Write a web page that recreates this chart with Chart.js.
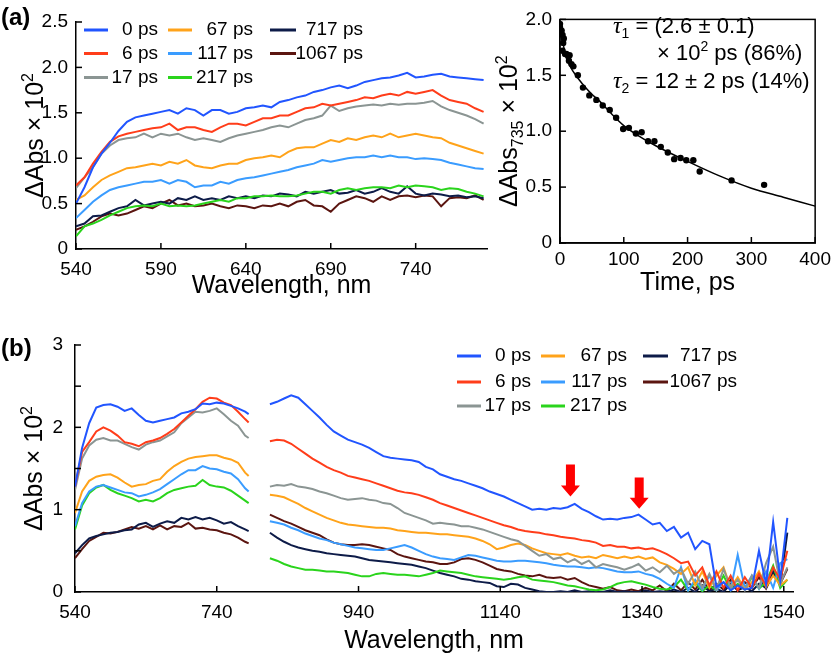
<!DOCTYPE html>
<html>
<head>
<meta charset="utf-8">
<script src="https://cdn.jsdelivr.net/npm/chart.js@4.4.1/dist/chart.umd.min.js"></script>
<style>
  body { margin: 0; background: #fff; }
  #wrap { position: relative; width: 836px; height: 653px; overflow: hidden; background: #fff; }
  canvas { position: absolute; }
  .panel { position: absolute; font: bold 24px "Liberation Sans", Arial, sans-serif; color: #000; }
</style>
</head>
<body>
<div id="wrap">
  <canvas id="specA" width="490" height="310" style="left:0;top:0"></canvas>
  <canvas id="kinA" width="346" height="310" style="left:490px;top:0"></canvas>
  <canvas id="specB" width="836" height="333" style="left:0;top:320px"></canvas>
  <div class="panel" style="left:1px;top:3px">(a)</div>
  <div class="panel" style="left:1px;top:334px">(b)</div>
</div>
<script>
const FONT = '"Liberation Sans", Arial, Helvetica, sans-serif';

const legendLabels = ['0 ps', '6 ps', '17 ps', '67 ps', '117 ps', '217 ps', '717 ps', '1067 ps'];
const seriesColors = ['#2155ff', '#ff3d1a', '#8b9593', '#ffa31a', '#3a9cff', '#2ad41c', '#0d1b48', '#5b1510'];

//panel a, left: spectra 540-780 nm
const wlA = [540,545,550,555,560,565,570,575,580,585,590,595,600,605,610,615,620,625,630,635,
  640,645,650,655,660,665,670,675,680,685,690,695,700,705,710,715,720,725,730,735,
  740,745,750,755,760,765,770,775,780];
const a0 = [0.50,0.68,0.90,1.05,1.17,1.30,1.40,1.45,1.47,1.49,1.51,1.53,1.49,1.55,1.53,1.47,1.53,1.53,1.49,1.51,
  1.55,1.56,1.58,1.56,1.62,1.64,1.67,1.69,1.73,1.75,1.78,1.80,1.77,1.80,1.84,1.86,1.88,1.89,1.91,1.94,
  1.89,1.90,1.92,1.93,1.90,1.89,1.88,1.87,1.86];
const a6 = [0.70,0.79,0.94,1.07,1.18,1.24,1.27,1.29,1.31,1.33,1.34,1.38,1.31,1.34,1.34,1.31,1.29,1.34,1.38,1.38,
  1.36,1.40,1.44,1.44,1.47,1.47,1.51,1.55,1.56,1.60,1.58,1.60,1.62,1.64,1.67,1.66,1.69,1.71,1.69,1.73,
  1.71,1.73,1.75,1.69,1.64,1.62,1.60,1.55,1.51];
const a17 = [0.67,0.79,0.90,1.05,1.14,1.20,1.22,1.23,1.27,1.23,1.27,1.25,1.27,1.23,1.20,1.22,1.20,1.18,1.22,1.25,
  1.27,1.29,1.31,1.34,1.36,1.34,1.38,1.42,1.44,1.47,1.58,1.52,1.55,1.57,1.58,1.59,1.58,1.60,1.59,1.60,
  1.60,1.61,1.63,1.57,1.53,1.50,1.47,1.43,1.38];
const a67 = [0.54,0.59,0.68,0.76,0.81,0.85,0.89,0.90,0.92,0.94,0.92,0.96,0.94,0.98,0.92,0.90,0.89,0.92,0.94,0.94,
  0.98,1.00,1.01,1.03,1.01,1.07,1.11,1.12,1.12,1.16,1.20,1.18,1.22,1.20,1.23,1.25,1.23,1.27,1.23,1.25,
  1.27,1.25,1.23,1.22,1.17,1.14,1.11,1.08,1.05];
const a117 = [0.34,0.43,0.52,0.59,0.65,0.68,0.70,0.72,0.74,0.74,0.76,0.72,0.76,0.74,0.68,0.70,0.70,0.74,0.72,0.76,
  0.78,0.79,0.81,0.83,0.85,0.87,0.90,0.92,0.94,0.98,0.96,0.98,1.00,1.01,1.01,1.03,1.01,1.03,1.01,1.01,
  0.99,1.00,0.99,0.98,0.95,0.93,0.91,0.89,0.88];
const a217 = [0.14,0.25,0.28,0.32,0.37,0.41,0.45,0.47,0.48,0.47,0.50,0.47,0.48,0.47,0.48,0.50,0.52,0.54,0.52,0.56,
  0.56,0.58,0.58,0.59,0.58,0.58,0.59,0.61,0.63,0.63,0.61,0.65,0.67,0.65,0.67,0.68,0.68,0.67,0.70,0.68,
  0.70,0.69,0.68,0.65,0.67,0.66,0.63,0.61,0.58];
const a717 = [0.25,0.28,0.36,0.37,0.41,0.45,0.47,0.54,0.48,0.50,0.52,0.50,0.56,0.54,0.58,0.54,0.56,0.54,0.58,0.56,
  0.58,0.56,0.59,0.58,0.61,0.60,0.58,0.63,0.61,0.63,0.65,0.61,0.62,0.65,0.61,0.63,0.67,0.63,0.61,0.69,
  0.61,0.59,0.61,0.60,0.58,0.59,0.57,0.58,0.56];
const a1067 = [0.21,0.25,0.30,0.36,0.39,0.37,0.39,0.43,0.47,0.45,0.50,0.54,0.48,0.50,0.47,0.48,0.50,0.47,0.45,0.48,
  0.47,0.45,0.48,0.47,0.50,0.47,0.52,0.54,0.48,0.47,0.41,0.50,0.54,0.58,0.56,0.52,0.58,0.54,0.58,0.59,
  0.57,0.59,0.58,0.47,0.56,0.57,0.56,0.59,0.54];
const aTicksX = [540, 590, 640, 690, 740];
const aTicksY = [0, 0.5, 1.0, 1.5, 2.0, 2.5];

//panel a, right: decay at 735 nm and fit
const kinT = [0,0,2.6,4,6,5,4,8,10,13,15,14,18,21,28,36,46,57,67,78,
  88,99,108,119,128,138,148,158,169,179,189,198,209,219,269,320];
const kinV = [1.96,1.93,1.90,1.86,1.83,1.79,1.72,1.69,1.69,1.67,1.68,1.63,1.60,1.58,1.50,1.39,1.32,1.28,1.23,1.19,
  1.12,1.02,1.03,0.98,0.99,0.91,0.91,0.86,0.81,0.75,0.76,0.74,0.74,0.64,0.56,0.52];
const fitT = [0,2,4,6,8,10,15,20,30,40,50,60,80,100,120,150,200,250,300,350,400];
const fitV = [1.96,1.88,1.81,1.75,1.70,1.66,1.59,1.54,1.46,1.39,1.33,1.28,1.16,1.05,0.97,0.87,0.73,0.60,0.49,0.41,0.33];
const kTicksX = [0, 100, 200, 300, 400];
const kTicksY = [0, 0.5, 1.0, 1.5, 2.0];

//panel b: visible part
const wlBvis = [540,550,560,570,580,590,600,610,620,630,640,650,660,670,680,690,700,710,720,730,740,750,760,770,780,785];
const b0v = [1.28,1.75,2.05,2.24,2.27,2.28,2.25,2.20,2.23,2.15,2.08,2.06,2.08,2.10,2.12,2.17,2.19,2.22,2.29,2.28,2.30,2.29,2.26,2.23,2.19,2.16];
const b6v = [1.28,1.70,1.82,1.95,2.00,1.96,1.90,1.82,1.80,1.77,1.82,1.84,1.87,1.92,1.98,2.06,2.14,2.22,2.31,2.36,2.35,2.30,2.27,2.19,2.10,2.06];
const b17v = [1.24,1.62,1.78,1.85,1.87,1.84,1.84,1.80,1.76,1.73,1.79,1.82,1.84,1.89,1.94,2.05,2.12,2.19,2.18,2.20,2.23,2.16,2.08,2.02,1.90,1.87];
const b67v = [0.96,1.22,1.35,1.40,1.42,1.43,1.39,1.33,1.28,1.30,1.31,1.35,1.37,1.46,1.53,1.58,1.62,1.64,1.65,1.66,1.66,1.63,1.61,1.57,1.45,1.41];
const b117v = [0.80,1.08,1.22,1.28,1.30,1.27,1.24,1.21,1.20,1.16,1.18,1.21,1.25,1.31,1.37,1.43,1.48,1.48,1.53,1.50,1.49,1.46,1.44,1.37,1.26,1.22];
const b217v = [0.76,1.05,1.20,1.27,1.30,1.24,1.20,1.17,1.14,1.10,1.12,1.10,1.14,1.20,1.24,1.26,1.28,1.29,1.36,1.30,1.28,1.27,1.23,1.17,1.11,1.08];
const b717v = [0.47,0.57,0.65,0.68,0.70,0.72,0.73,0.75,0.76,0.82,0.84,0.79,0.83,0.86,0.84,0.90,0.88,0.91,0.88,0.90,0.87,0.83,0.85,0.80,0.76,0.74];
const b1067v = [0.41,0.52,0.62,0.67,0.72,0.71,0.73,0.76,0.79,0.77,0.80,0.76,0.81,0.76,0.80,0.79,0.84,0.77,0.78,0.76,0.75,0.72,0.70,0.66,0.61,0.59];

//panel b: near-IR part
const wlBnir = [815,825,835,845,855,865,875,885,895,905,915,925,935,945,955,965,975,985,995,1005,
  1015,1025,1035,1045,1055,1065,1075,1085,1095,1105,1115,1125,1135,1145,1155,1165,1175,1185,1195,1205,
  1215,1225,1235,1245,1255,1265,1275,1285,1295,1305,1315,1325,1335,1345,1355,1365,1375,1385,1395,1405,
  1415,1425,1435,1445,1455,1465,1475,1485,1495,1505,1515,1525,1535,1545];
const b0n = [2.28,2.31,2.35,2.39,2.36,2.28,2.20,2.12,2.03,1.95,1.90,1.85,1.82,1.79,1.75,1.70,1.65,1.63,1.62,1.61,
  1.60,1.58,1.52,1.49,1.43,1.40,1.37,1.35,1.32,1.29,1.26,1.22,1.19,1.16,1.12,1.08,1.04,1.00,1.01,1.00,
  1.02,1.01,1.03,1.07,1.01,0.97,0.92,0.88,0.89,0.88,0.90,0.91,0.94,0.88,0.82,0.84,0.74,0.79,0.66,0.72,
  0.52,0.62,0.58,0.06,0.12,0.02,0.08,0.03,0.05,0.50,0.10,0.85,0.15,0.90];
const b6n = [1.83,1.85,1.84,1.80,1.74,1.68,1.62,1.57,1.52,1.48,1.45,1.41,1.39,1.37,1.35,1.32,1.29,1.26,1.23,1.21,
  1.20,1.18,1.15,1.12,1.08,1.05,1.02,0.99,0.96,0.93,0.90,0.87,0.84,0.81,0.79,0.76,0.74,0.73,0.72,0.70,
  0.69,0.67,0.66,0.65,0.63,0.62,0.60,0.56,0.57,0.55,0.55,0.53,0.54,0.52,0.53,0.50,0.46,0.41,0.35,0.37,
  0.20,0.30,0.08,0.25,0.05,0.20,0.02,0.18,0.05,0.22,0.08,0.30,0.15,0.50];
const b17n = [1.28,1.30,1.29,1.31,1.28,1.27,1.25,1.22,1.20,1.17,1.14,1.12,1.13,1.14,1.12,1.11,1.08,1.07,1.02,0.96,
  0.93,0.90,0.87,0.83,0.84,0.83,0.82,0.80,0.80,0.78,0.76,0.73,0.70,0.67,0.64,0.62,0.56,0.50,0.44,0.46,
  0.40,0.42,0.36,0.40,0.34,0.38,0.30,0.34,0.32,0.30,0.27,0.30,0.34,0.26,0.30,0.24,0.32,0.22,0.28,0.10,
  0.25,0.05,0.22,0.03,0.28,0.05,0.15,0.02,0.20,0.05,0.35,0.55,0.10,0.30];
const b67n = [1.18,1.17,1.15,1.11,1.07,1.02,0.98,0.94,0.90,0.87,0.84,0.82,0.81,0.80,0.79,0.78,0.78,0.77,0.75,0.74,
  0.73,0.72,0.72,0.71,0.70,0.70,0.69,0.68,0.67,0.65,0.62,0.58,0.52,0.54,0.57,0.59,0.57,0.53,0.50,0.47,
  0.46,0.45,0.47,0.44,0.42,0.43,0.41,0.45,0.43,0.41,0.43,0.41,0.43,0.40,0.42,0.36,0.33,0.28,0.22,0.30,
  0.08,0.25,0.05,0.20,0.30,0.05,0.18,0.03,0.12,0.25,0.06,0.20,0.08,0.15];
const b117n = [0.86,0.84,0.82,0.78,0.75,0.71,0.68,0.65,0.63,0.60,0.58,0.56,0.54,0.53,0.52,0.51,0.51,0.53,0.55,0.57,
  0.54,0.50,0.46,0.43,0.41,0.40,0.39,0.42,0.45,0.44,0.42,0.40,0.38,0.37,0.37,0.38,0.38,0.37,0.36,0.35,
  0.33,0.32,0.31,0.31,0.30,0.29,0.30,0.29,0.27,0.25,0.24,0.24,0.25,0.22,0.20,0.16,0.10,0.05,0.30,0.02,
  0.15,0.03,0.20,0.02,0.12,0.03,0.45,0.05,0.20,0.04,0.25,0.05,0.35,0.40];
const b217n = [0.41,0.38,0.34,0.31,0.29,0.27,0.27,0.26,0.25,0.25,0.24,0.23,0.21,0.19,0.19,0.22,0.23,0.22,0.21,0.21,
  0.20,0.19,0.21,0.23,0.26,0.25,0.24,0.23,0.21,0.19,0.18,0.17,0.16,0.15,0.16,0.18,0.19,0.15,0.14,0.13,
  0.12,0.10,0.08,0.07,0.05,0.03,0.02,0.03,0.06,0.10,0.12,0.13,0.11,0.09,0.06,0.04,0.03,0.06,0.15,0.02,
  0.12,0.01,0.08,0.02,0.20,0.02,0.10,0.03,0.18,0.04,0.12,0.32,0.05,0.15];
const b717n = [0.72,0.66,0.61,0.57,0.54,0.52,0.50,0.49,0.47,0.46,0.45,0.44,0.43,0.41,0.39,0.38,0.37,0.36,0.35,0.34,
  0.33,0.31,0.29,0.26,0.23,0.21,0.19,0.16,0.15,0.13,0.12,0.11,0.07,0.06,0.10,0.09,0.05,0.03,0.01,0.00,
  0.00,0.01,0.00,0.02,0.00,0.01,0.00,0.00,0.02,0.00,0.01,0.00,0.00,0.02,0.00,0.01,0.00,0.03,0.00,0.05,
  0.00,0.08,0.01,0.04,0.00,0.10,0.02,0.06,0.01,0.10,0.05,0.25,0.08,0.72];
const b1067n = [0.94,0.90,0.86,0.83,0.79,0.75,0.72,0.69,0.64,0.60,0.58,0.57,0.57,0.58,0.57,0.55,0.53,0.51,0.46,0.43,
  0.41,0.39,0.37,0.36,0.34,0.34,0.36,0.40,0.41,0.39,0.36,0.32,0.28,0.26,0.25,0.22,0.20,0.19,0.21,0.18,
  0.17,0.18,0.15,0.17,0.12,0.08,0.06,0.04,0.06,0.02,0.01,0.03,0.01,0.05,0.02,0.08,0.01,0.10,0.02,0.12,
  0.03,0.15,0.02,0.10,0.03,0.15,0.02,0.12,0.05,0.18,0.04,0.22,0.10,0.28];
const bTicksX = [540, 740, 940, 1140, 1340, 1540];
const bTicksY = [0, 0.5, 1, 1.5, 2, 2.5, 3];

//red arrows in panel b (wavelength, top and tip in dAbs units)
const arrowX = [1239, 1336];
const arrowTop = [1.55, 1.39];
const arrowTip = [1.16, 1.01];

function lineSet(xs, ys, color) {
  return {
    data: xs.map((x, i) => ({ x: x, y: ys[i] })),
    borderColor: color,
    borderWidth: 2,
    pointRadius: 0,
    tension: 0,
    fill: false
  };
}

function fontOf(p) {
  return (p.italic ? 'italic ' : '') + (p.size || 25) + 'px ' + (p.serif ? '"Liberation Serif", "DejaVu Serif", serif' : FONT);
}

// draws a row of text pieces (for sub/superscripts), optionally rotated
function drawParts(ctx, parts, x, y, align, rot) {
  ctx.save();
  ctx.translate(x, y);
  if (rot) ctx.rotate(rot);
  ctx.textBaseline = 'alphabetic';
  ctx.textAlign = 'left';
  ctx.fillStyle = '#000';
  let w = 0;
  parts.forEach(p => { ctx.font = fontOf(p); w += ctx.measureText(p.t).width; });
  let cx = align === 'center' ? -w / 2 : 0;
  parts.forEach(p => {
    ctx.font = fontOf(p);
    ctx.fillText(p.t, cx, p.dy || 0);
    cx += ctx.measureText(p.t).width;
  });
  ctx.restore();
}

const decor = {
  id: 'decor',
  afterDraw(chart, args, o) {
    const ctx = chart.ctx;
    const a = chart.chartArea;
    const xs = chart.scales.x, ys = chart.scales.y;
    ctx.save();
    ctx.strokeStyle = '#000';
    ctx.lineWidth = 1.5;
    // inward tick marks
    xs.ticks.forEach(t => {
      const p = xs.getPixelForValue(t.value);
      ctx.beginPath(); ctx.moveTo(p, a.bottom); ctx.lineTo(p, a.bottom - 6); ctx.stroke();
    });
    ys.ticks.forEach(t => {
      const p = ys.getPixelForValue(t.value);
      ctx.beginPath(); ctx.moveTo(a.left, p); ctx.lineTo(a.left + 6, p); ctx.stroke();
    });
    if (o.box) ctx.strokeRect(a.left, a.top, a.right - a.left, a.bottom - a.top);

    // axis titles
    if (o.xTitle) drawParts(ctx, o.xTitle.parts, (a.left + a.right) / 2, o.xTitle.y, 'center', 0);
    if (o.yTitle) drawParts(ctx, o.yTitle.parts, o.yTitle.x, (a.top + a.bottom) / 2, 'center', -Math.PI / 2);
    (o.texts || []).forEach(t => drawParts(ctx, t.parts, t.x, t.y, 'left', 0));

    // legend in three columns
    if (o.legend) {
      legendLabels.forEach((label, i) => {
        const col = o.legend.cols[Math.floor(i / 3)];
        const y = o.legend.rows[i % 3];
        ctx.strokeStyle = seriesColors[i];
        ctx.lineWidth = 3;
        ctx.beginPath(); ctx.moveTo(col[0], y); ctx.lineTo(col[1], y); ctx.stroke();
        ctx.fillStyle = '#000';
        ctx.font = '19px ' + FONT;
        ctx.textAlign = 'right';
        ctx.textBaseline = 'middle';
        ctx.fillText(label, col[2], y);
      });
    }

    // red arrows
    if (o.arrows) {
      ctx.fillStyle = '#ff0000';
      arrowX.forEach((v, i) => {
        const x = xs.getPixelForValue(v);
        const top = ys.getPixelForValue(arrowTop[i]);
        const tip = ys.getPixelForValue(arrowTip[i]);
        const head = 11;
        ctx.beginPath();
        ctx.moveTo(x - 4.5, top); ctx.lineTo(x + 4.5, top);
        ctx.lineTo(x + 4.5, tip - head); ctx.lineTo(x + 9.5, tip - head);
        ctx.lineTo(x, tip); ctx.lineTo(x - 9.5, tip - head);
        ctx.lineTo(x - 4.5, tip - head); ctx.closePath();
        ctx.fill();
      });
    }
    ctx.restore();
  }
};

function axis(min, max, tickVals, fitKey, fitVal, pad, fmt) {
  return {
    type: 'linear',
    min: min,
    max: max,
    afterBuildTicks: s => { s.ticks = tickVals.map(v => ({ value: v })); },
    afterFit: s => { s[fitKey] = fitVal; },
    grid: { display: false, drawTicks: false },
    border: { display: true, color: '#000', width: 1.5 },
    ticks: { color: '#000', font: { size: 19 }, padding: pad, maxRotation: 0, autoSkip: false, callback: fmt }
  };
}

const oneDec = v => (v === 0 ? '0' : v.toFixed(1));
const plain = v => String(v);
const baseOpts = {
  responsive: false,
  animation: false,
  events: [],
  plugins: { legend: { display: false }, tooltip: { enabled: false } }
};

Chart.defaults.font.family = FONT;
Chart.defaults.color = '#000';

// panel a left
const aSeries = [a0, a6, a17, a67, a117, a217, a717, a1067];
new Chart(document.getElementById('specA').getContext('2d'), {
  type: 'line',
  data: { datasets: aSeries.map((s, i) => lineSet(wlA, s, seriesColors[i])) },
  options: Object.assign({}, baseOpts, {
    layout: { padding: { top: 22, right: 3, left: 0, bottom: 0 } },
    scales: {
      x: axis(540, 782, aTicksX, 'height', 61, 9, plain),
      y: axis(0, 2.5, aTicksY, 'width', 76, 8, oneDec)
    },
    plugins: Object.assign({}, baseOpts.plugins, {
      decor: {
        xTitle: { y: 293, parts: [{ t: 'Wavelength, nm' }] },
        yTitle: { x: 43, parts: [{ t: '\u0394Abs \u00d7 10' }, { t: '2', size: 16, dy: -10 }] },
        legend: { rows: [30, 53.5, 77.5], cols: [[84, 108, 158], [168, 192, 253], [270, 296, 363]] }
      }
    })
  }),
  plugins: [decor]
});

// panel a right
new Chart(document.getElementById('kinA').getContext('2d'), {
  type: 'line',
  data: {
    datasets: [
      {
        data: kinT.map((t, i) => ({ x: t, y: kinV[i] })),
        showLine: false,
        pointRadius: 3.2,
        pointBackgroundColor: '#000',
        pointBorderWidth: 0
      },
      {
        data: fitT.map((t, i) => ({ x: t, y: fitV[i] })),
        borderColor: '#000',
        borderWidth: 1.5,
        pointRadius: 0,
        cubicInterpolationMode: 'monotone'
      }
    ]
  },
  options: Object.assign({}, baseOpts, {
    layout: { padding: { top: 7, right: 17, left: 0, bottom: 0 } },
    scales: {
      x: axis(0, 400, kTicksX, 'height', 67, 5, plain),
      y: axis(0, 2.0, kTicksY, 'width', 70, 8, oneDec)
    },
    plugins: Object.assign({}, baseOpts.plugins, {
      decor: {
        box: true,
        xTitle: { y: 290, parts: [{ t: 'Time, ps' }] },
        yTitle: { x: 27, parts: [{ t: '\u0394Abs' }, { t: '735', size: 16, dy: 6 }, { t: ' \u00d7 10' }, { t: '2', size: 16, dy: -10 }] },
        texts: [
          { x: 123, y: 33, parts: [{ t: '\u03c4', italic: true, serif: true, size: 24 }, { t: '1', size: 14, dy: 5 }, { t: ' = (2.6 \u00b1 0.1)', size: 22 }] },
          { x: 167, y: 60, parts: [{ t: '\u00d7 10', size: 22 }, { t: '2', size: 14, dy: -9 }, { t: ' ps (86%)', size: 22 }] },
          { x: 123, y: 88, parts: [{ t: '\u03c4', italic: true, serif: true, size: 24 }, { t: '2', size: 14, dy: 5 }, { t: ' = 12 \u00b1 2 ps (14%)', size: 22 }] }
        ]
      }
    })
  }),
  plugins: [decor]
});

// panel b
const bVis = [b0v, b6v, b17v, b67v, b117v, b217v, b717v, b1067v];
const bNir = [b0n, b6n, b17n, b67n, b117n, b217n, b717n, b1067n];
const bSets = [];
bVis.forEach((s, i) => bSets.push(lineSet(wlBvis, s, seriesColors[i])));
bNir.forEach((s, i) => bSets.push(lineSet(wlBnir, s, seriesColors[i])));

new Chart(document.getElementById('specB').getContext('2d'), {
  type: 'line',
  data: { datasets: bSets },
  options: Object.assign({}, baseOpts, {
    layout: { padding: { top: 25, right: 43, left: 0, bottom: 0 } },
    scales: {
      x: axis(540, 1553, bTicksX, 'height', 61, 9, plain),
      y: axis(0, 3, bTicksY, 'width', 75, 12, v => (Number.isInteger(v) ? String(v) : ''))
    },
    plugins: Object.assign({}, baseOpts.plugins, {
      decor: {
        xTitle: { y: 328, parts: [{ t: 'Wavelength, nm' }] },
        yTitle: { x: 42, parts: [{ t: '\u0394Abs \u00d7 10' }, { t: '2', size: 16, dy: -10 }] },
        legend: { rows: [36, 62, 86], cols: [[457, 481, 531], [541, 565, 627], [643, 668, 737]] },
        arrows: true
      }
    })
  }),
  plugins: [decor]
});
</script>
</body>
</html>
